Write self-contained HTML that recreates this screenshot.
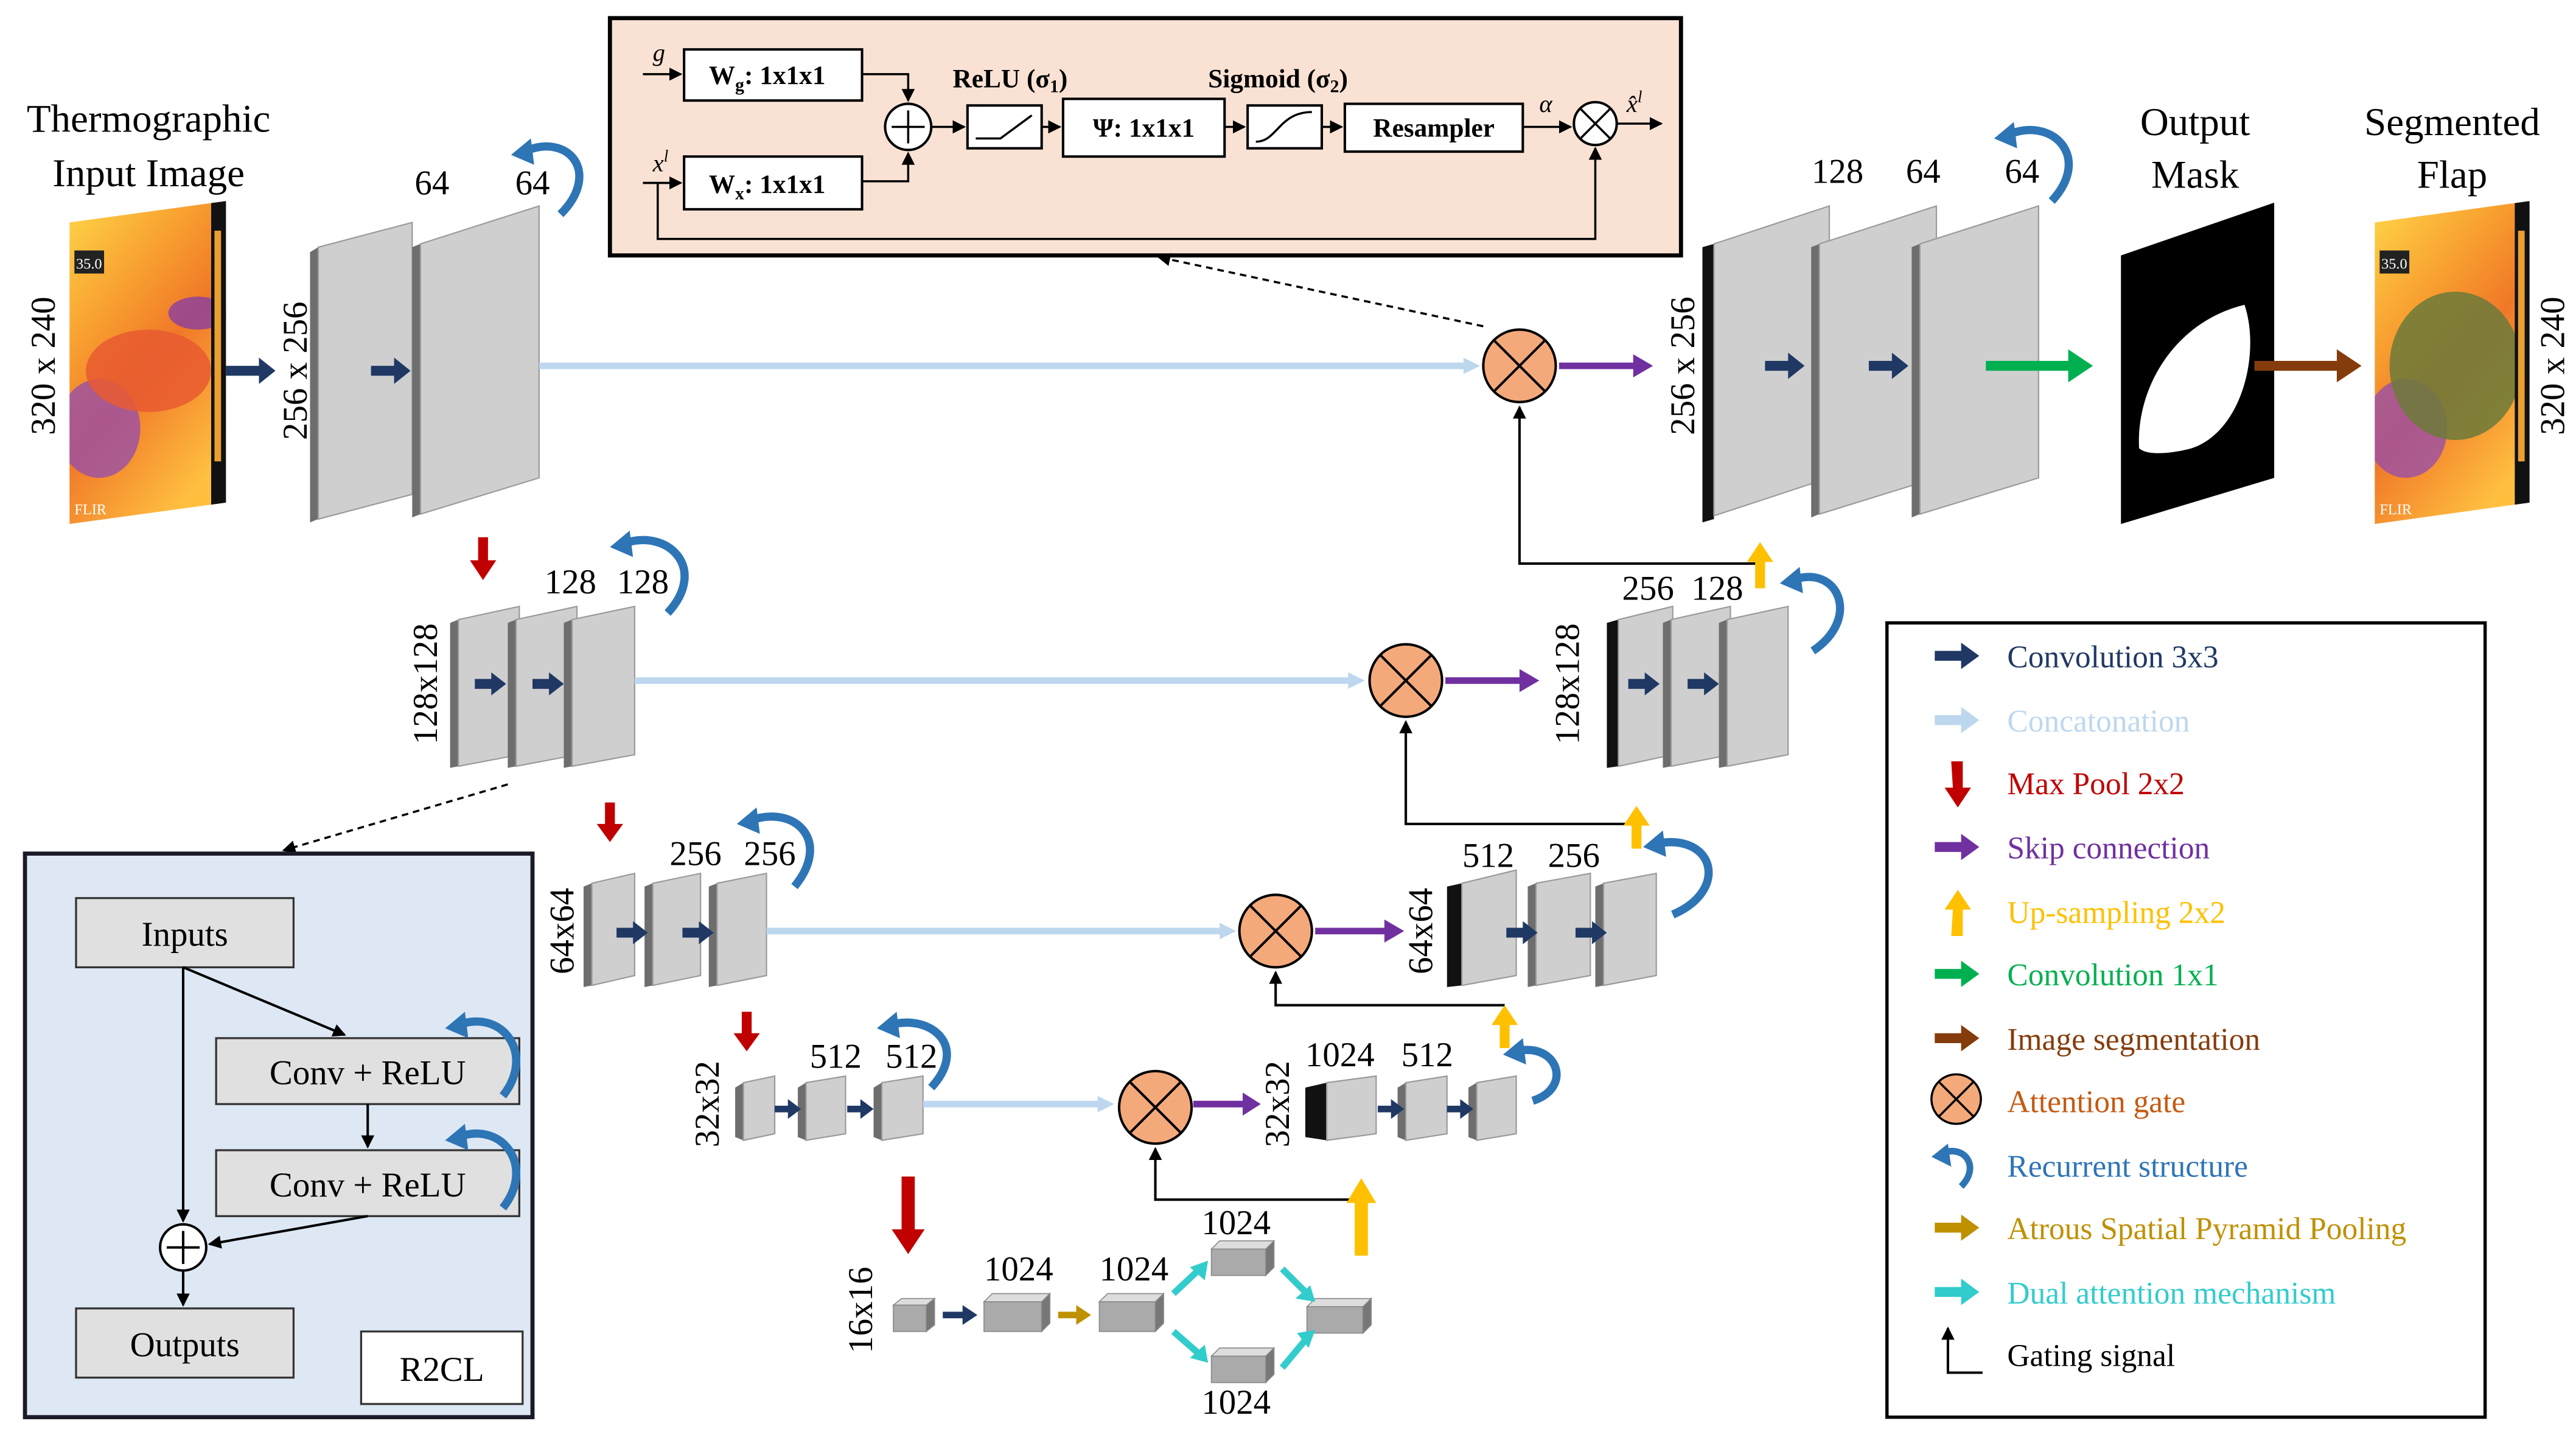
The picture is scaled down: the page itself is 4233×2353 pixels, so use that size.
<!DOCTYPE html>
<html><head><meta charset="utf-8"><style>
html,body{margin:0;padding:0;background:#fff}
svg{display:block}
text{font-family:"Liberation Serif",serif;fill:#000}
.sl{fill:#cfcfcf;stroke:#9a9a9a;stroke-width:0.8}
.sd{fill:#6e6e6e}
.bk{fill:#111}
.lg{font-size:19px}
</style></head><body>
<svg width="4233" height="2353" viewBox="0 0 1563 869" xmlns="http://www.w3.org/2000/svg">
<defs>
<marker id="ah" markerWidth="8" markerHeight="8" refX="7" refY="4" orient="auto" markerUnits="userSpaceOnUse"><path d="M0,0 L8,4 L0,8 z" fill="#000"/></marker>
<linearGradient id="th" x1="0" y1="0" x2="0.6" y2="1"><stop offset="0" stop-color="#ffd84a"/><stop offset="0.35" stop-color="#f8a030"/><stop offset="0.6" stop-color="#f07828"/><stop offset="1" stop-color="#ffc040"/></linearGradient>
<clipPath id="c1"><polygon points="42,135 137,122 137,305 42,318"/></clipPath>
<clipPath id="c2"><polygon points="1441,135 1535,122 1535,305 1441,318"/></clipPath>
</defs>

<!-- top inset -->
<rect x="370" y="11" width="650" height="144" fill="#f9e2d4" stroke="#000" stroke-width="2.5"/>
<g stroke="#000" stroke-width="1.3" fill="none">
<line x1="390" y1="45" x2="413" y2="45" marker-end="url(#ah)"/>
<line x1="390" y1="111" x2="413" y2="111" marker-end="url(#ah)"/>
<polyline points="523,45 551,45 551,61" marker-end="url(#ah)"/>
<polyline points="523,110 551,110 551,93" marker-end="url(#ah)"/>
<line x1="565" y1="77" x2="585" y2="77" marker-end="url(#ah)"/>
<line x1="632" y1="77" x2="643" y2="77" marker-end="url(#ah)"/>
<line x1="743" y1="77" x2="755" y2="77" marker-end="url(#ah)"/>
<line x1="802" y1="77" x2="814" y2="77" marker-end="url(#ah)"/>
<line x1="924" y1="77" x2="953" y2="77" marker-end="url(#ah)"/>
<line x1="981" y1="75" x2="1008" y2="75" marker-end="url(#ah)"/>
<polyline points="399,111 399,145 968,145 968,90" marker-end="url(#ah)"/>
</g>
<g fill="#fff" stroke="#000" stroke-width="1.5">
<rect x="415" y="30" width="108" height="31"/>
<rect x="415" y="95" width="108" height="32"/>
<rect x="587" y="64" width="45" height="26"/>
<rect x="645" y="60" width="98" height="35"/>
<rect x="757" y="64" width="45" height="26"/>
<rect x="816" y="63" width="108" height="29"/>
<circle cx="551" cy="77" r="14"/>
<circle cx="968" cy="75" r="13"/>
</g>
<g stroke="#000" stroke-width="1.3" fill="none">
<line x1="541" y1="77" x2="561" y2="77"/><line x1="551" y1="67" x2="551" y2="87"/>
<line x1="959" y1="66" x2="977" y2="84"/><line x1="977" y1="66" x2="959" y2="84"/>
<polyline points="592,84 607,84 626,70"/>
<path d="M762,86 C775,86 776,68 796,68"/>
</g>
<g font-weight="bold" font-size="16">
<text x="430" y="51">W<tspan font-size="11" dy="4">g</tspan><tspan dy="-4">: 1x1x1</tspan></text>
<text x="430" y="117">W<tspan font-size="11" dy="4">x</tspan><tspan dy="-4">: 1x1x1</tspan></text>
<text x="694" y="83" text-anchor="middle">Ψ: 1x1x1</text>
<text x="870" y="83" text-anchor="middle">Resampler</text>
<text x="578" y="53">ReLU (σ<tspan font-size="11" dy="3">1</tspan><tspan dy="-3">)</tspan></text>
<text x="733" y="53">Sigmoid (σ<tspan font-size="11" dy="3">2</tspan><tspan dy="-3">)</tspan></text>
</g>
<g font-style="italic" font-size="15">
<text x="396" y="37">g</text><text x="396" y="104">x<tspan font-size="10" dy="-6">l</tspan></text>
<text x="934" y="68">α</text><text x="987" y="68">x̂<tspan font-size="10" dy="-6">l</tspan></text>
</g>
<line x1="900" y1="198" x2="703" y2="156" stroke="#000" stroke-width="1.3" stroke-dasharray="4,3" marker-end="url(#ah)"/>

<!-- titles -->
<g font-size="24" text-anchor="middle">
<text x="90" y="80">Thermographic</text><text x="90" y="113">Input Image</text>
<text x="1332" y="82">Output</text><text x="1332" y="114">Mask</text>
<text x="1488" y="82">Segmented</text><text x="1488" y="114">Flap</text>
</g>
<g font-size="21" text-anchor="middle">
<text transform="translate(33,222) rotate(-90)">320 x 240</text>
<text transform="translate(1556,222) rotate(-90)">320 x 240</text>
<text transform="translate(186,225) rotate(-90)">256 x 256</text>
<text transform="translate(1028,222) rotate(-90)">256 x 256</text>
<text transform="translate(265,415) rotate(-90)">128x128</text>
<text transform="translate(958,415) rotate(-90)">128x128</text>
<text transform="translate(348,565) rotate(-90)">64x64</text>
<text transform="translate(869,565) rotate(-90)">64x64</text>
<text transform="translate(436,670) rotate(-90)">32x32</text>
<text transform="translate(782,670) rotate(-90)">32x32</text>
<text transform="translate(529,795) rotate(-90)">16x16</text>
<text x="262" y="118">64</text><text x="323" y="118">64</text>
<text x="346" y="360">128</text><text x="390" y="360">128</text>
<text x="422" y="525">256</text><text x="467" y="525">256</text>
<text x="507" y="648">512</text><text x="553" y="648">512</text>
<text x="1115" y="111">128</text><text x="1167" y="111">64</text><text x="1227" y="111">64</text>
<text x="1000" y="364">256</text><text x="1042" y="364">128</text>
<text x="903" y="526">512</text><text x="955" y="526">256</text>
<text x="813" y="647">1024</text><text x="866" y="647">512</text>
<text x="618" y="777">1024</text><text x="688" y="777">1024</text>
<text x="750" y="749">1024</text><text x="750" y="858">1024</text>
</g>

<!-- images -->
<g clip-path="url(#c1)">
<rect x="40" y="120" width="100" height="200" fill="url(#th)"/>
<ellipse cx="60" cy="260" rx="25" ry="30" fill="#9a4fa8" opacity="0.8"/>
<ellipse cx="120" cy="190" rx="18" ry="10" fill="#8a3fa0" opacity="0.8"/>
<ellipse cx="90" cy="225" rx="38" ry="25" fill="#e85a30" opacity="0.85"/>
<rect x="128" y="120" width="10" height="200" fill="#111"/>
<rect x="130" y="140" width="4" height="140" fill="#e9a030"/>
<rect x="45" y="152" width="18" height="14" fill="#222"/>
<text x="46" y="163" font-size="9" style="fill:#fff">35.0</text>
<text x="45" y="312" font-size="9" style="fill:#fff">FLIR</text>
</g>
<g clip-path="url(#c2)">
<rect x="1440" y="120" width="100" height="200" fill="url(#th)"/>
<ellipse cx="1460" cy="260" rx="25" ry="30" fill="#9a4fa8" opacity="0.8"/>
<ellipse cx="1490" cy="222" rx="40" ry="45" fill="#6b7a3a" opacity="0.85"/>
<rect x="1526" y="120" width="10" height="200" fill="#111"/>
<rect x="1528" y="140" width="4" height="140" fill="#e9a030"/>
<rect x="1444" y="152" width="18" height="14" fill="#222"/>
<text x="1445" y="163" font-size="9" style="fill:#fff">35.0</text>
<text x="1444" y="312" font-size="9" style="fill:#fff">FLIR</text>
</g>
<polygon points="1287,155 1380,123 1380,290 1287,318" fill="#000"/>
<path d="M1298,272 C1296,235 1320,195 1362,185 C1372,215 1360,262 1330,272 C1315,276 1302,276 1298,272 z" fill="#fff"/>

<!-- slabs level1 -->
<polygon class="sd" points="188,153 193,150 193,315 188,317"/>
<polygon class="sl" points="193,150 250,135 250,300 193,315"/>
<polygon class="sd" points="250,150 255,148 255,312 250,314"/>
<polygon class="sl" points="255,148 327,125 327,290 255,312"/>
<polygon class="bk" points="1033,150 1040,148 1040,315 1033,317"/>
<polygon class="sl" points="1040,148 1110,125 1110,290 1040,313"/>
<polygon class="sd" points="1099,150 1104,148 1104,312 1099,314"/>
<polygon class="sl" points="1104,148 1175,125 1175,290 1104,312"/>
<polygon class="sd" points="1160,150 1165,148 1165,312 1160,314"/>
<polygon class="sl" points="1165,148 1237,125 1237,290 1165,312"/>
<!-- level2 -->
<polygon class="sd" points="273,378 278,376 278,465 273,466"/><polygon class="sl" points="278,376 315,368 315,458 278,465"/>
<polygon class="sd" points="308,378 313,376 313,465 308,466"/><polygon class="sl" points="313,376 350,368 350,458 313,465"/>
<polygon class="sd" points="342,378 347,376 347,465 342,466"/><polygon class="sl" points="347,376 385,368 385,458 347,465"/>
<polygon class="bk" points="975,378 982,376 982,465 975,466"/><polygon class="sl" points="982,376 1015,368 1015,458 982,465"/>
<polygon class="sd" points="1009,378 1014,376 1014,465 1009,466"/><polygon class="sl" points="1014,376 1050,368 1050,458 1014,465"/>
<polygon class="sd" points="1043,378 1048,376 1048,465 1043,466"/><polygon class="sl" points="1048,376 1085,368 1085,458 1048,465"/>
<!-- level3 -->
<polygon class="sd" points="354,538 359,536 359,598 354,599"/><polygon class="sl" points="359,536 385,530 385,592 359,598"/>
<polygon class="sd" points="391,538 396,536 396,598 391,599"/><polygon class="sl" points="396,536 425,530 425,592 396,598"/>
<polygon class="sd" points="430,538 435,536 435,598 430,599"/><polygon class="sl" points="435,536 465,530 465,592 435,598"/>
<polygon class="bk" points="878,538 887,536 887,598 878,599"/><polygon class="sl" points="887,536 920,528 920,592 887,598"/>
<polygon class="sd" points="927,538 932,536 932,598 927,599"/><polygon class="sl" points="932,536 965,530 965,592 932,598"/>
<polygon class="sd" points="968,538 973,536 973,598 968,599"/><polygon class="sl" points="973,536 1005,530 1005,592 973,598"/>
<!-- level4 -->
<polygon class="sd" points="446,660 451,657 451,692 446,690"/><polygon class="sl" points="451,657 470,653 470,688 451,692"/>
<polygon class="sd" points="484,660 489,657 489,692 484,690"/><polygon class="sl" points="489,657 513,653 513,688 489,692"/>
<polygon class="sd" points="530,660 535,657 535,692 530,690"/><polygon class="sl" points="535,657 560,653 560,688 535,692"/>
<polygon class="bk" points="792,660 805,657 805,692 792,690"/><polygon class="sl" points="805,657 835,653 835,688 805,692"/>
<polygon class="sd" points="848,660 853,657 853,692 848,690"/><polygon class="sl" points="853,657 878,653 878,688 853,692"/>
<polygon class="sd" points="891,660 896,657 896,692 891,690"/><polygon class="sl" points="896,657 920,653 920,688 896,692"/>
<!-- level5 cubes -->
<g stroke="#888" stroke-width="0.6">
<polygon points="542,792 562,792 567,788 547,788" fill="#ddd"/><rect x="542" y="792" width="20" height="16" fill="#aaa"/><polygon points="562,792 567,788 567,804 562,808" fill="#777"/>
<polygon points="597,790 632,790 637,785 602,785" fill="#ddd"/><rect x="597" y="790" width="35" height="18" fill="#aaa"/><polygon points="632,790 637,785 637,803 632,808" fill="#777"/>
<polygon points="667,790 701,790 706,785 672,785" fill="#ddd"/><rect x="667" y="790" width="34" height="18" fill="#aaa"/><polygon points="701,790 706,785 706,803 701,808" fill="#777"/>
<polygon points="735,758 768,758 773,753 740,753" fill="#ddd"/><rect x="735" y="758" width="33" height="16" fill="#aaa"/><polygon points="768,758 773,753 773,769 768,774" fill="#777"/>
<polygon points="735,823 768,823 773,818 740,818" fill="#ddd"/><rect x="735" y="823" width="33" height="16" fill="#aaa"/><polygon points="768,823 773,818 773,834 768,839" fill="#777"/>
<polygon points="793,793 827,793 832,788 798,788" fill="#ddd"/><rect x="793" y="793" width="34" height="16" fill="#aaa"/><polygon points="827,793 832,788 832,804 827,809" fill="#777"/>
</g>

<!-- concat lines -->
<g stroke="#bdd7ee" stroke-width="4" fill="none">
<line x1="327" y1="222" x2="890" y2="222"/><line x1="385" y1="413" x2="820" y2="413"/>
<line x1="465" y1="565" x2="742" y2="565"/><line x1="560" y1="670" x2="668" y2="670"/>
</g>
<g fill="#bdd7ee"><polygon points="888,217 898,222 888,227"/><polygon points="818,408 828,413 818,418"/><polygon points="740,560 750,565 740,570"/><polygon points="666,665 676,670 666,675"/></g>

<!-- attention gates -->
<g fill="#f4a97b" stroke="#000" stroke-width="1.5">
<circle cx="922" cy="222" r="22"/><circle cx="853" cy="413" r="22"/><circle cx="774" cy="565" r="22"/><circle cx="701" cy="672" r="22"/>
</g>
<g stroke="#000" stroke-width="1.5">
<path d="M906,206 L938,238 M938,206 L906,238"/><path d="M837,397 L869,429 M869,397 L837,429"/>
<path d="M758,549 L790,581 M790,549 L758,581"/><path d="M685,656 L717,688 M717,656 L685,688"/>
</g>
<!-- gating lines -->
<g stroke="#000" stroke-width="1.5" fill="none">
<polyline points="1068,342 922,342 922,247" marker-end="url(#ah)"/>
<polyline points="993,500 853,500 853,438" marker-end="url(#ah)"/>
<polyline points="913,610 774,610 774,590" marker-end="url(#ah)"/>
<polyline points="826,728 701,728 701,697" marker-end="url(#ah)"/>
</g>

<g id="arrows">
<g fill="#1f3864">
<path d="M137,222 h20 v-5 l10,8 l-10,8 v-5 h-20z"/>
<path d="M225,222 h14 v-5 l10,8 l-10,8 v-5 h-14z"/>
<path d="M1071,219 h14 v-5 l10,8 l-10,8 v-5 h-14z"/>
<path d="M1134,219 h14 v-5 l10,8 l-10,8 v-5 h-14z"/>
<path d="M288,412 h10 v-4 l9,7 l-9,7 v-4 h-10z"/>
<path d="M323,412 h10 v-4 l9,7 l-9,7 v-4 h-10z"/>
<path d="M988,412 h10 v-4 l9,7 l-9,7 v-4 h-10z"/>
<path d="M1024,412 h10 v-4 l9,7 l-9,7 v-4 h-10z"/>
<path d="M374,563 h10 v-4 l9,7 l-9,7 v-4 h-10z"/>
<path d="M414,563 h10 v-4 l9,7 l-9,7 v-4 h-10z"/>
<path d="M914,563 h10 v-4 l9,7 l-9,7 v-4 h-10z"/>
<path d="M956,563 h10 v-4 l9,7 l-9,7 v-4 h-10z"/>
<path d="M470,671 h8 v-4 l8,6 l-8,6 v-4 h-8z"/>
<path d="M514,671 h8 v-4 l8,6 l-8,6 v-4 h-8z"/>
<path d="M836,671 h8 v-4 l8,6 l-8,6 v-4 h-8z"/>
<path d="M878,671 h8 v-4 l8,6 l-8,6 v-4 h-8z"/>
<path d="M572,796 h12 v-4 l9,6 l-9,6 v-4 h-12z"/>
</g>
<path d="M642,796 h11 v-4 l9,6 l-9,6 v-4 h-11z" fill="#bf9000"/>
<g fill="#7030a0">
<path d="M946,220 h45 v-5 l12,7 l-12,7 v-5 h-45z"/>
<path d="M877,411 h45 v-5 l12,7 l-12,7 v-5 h-45z"/>
<path d="M798,563 h42 v-5 l12,7 l-12,7 v-5 h-42z"/>
<path d="M724,668 h30 v-5 l11,7 l-11,7 v-5 h-30z"/>
</g>
<path d="M1205,219 h50 v-7 l15,10 l-15,10 v-7 h-50z" fill="#00b050"/>
<path d="M1368,219 h50 v-7 l15,10 l-15,10 v-7 h-50z" fill="#843c0c"/>
<g fill="#c00000">
<path d="M290,326 h6 v14 h5 l-8,12 l-8,-12 h5z"/>
<path d="M367,487 h6 v13 h5 l-8,11 l-8,-11 h5z"/>
<path d="M450,614 h6 v13 h5 l-8,11 l-8,-11 h5z"/>
<path d="M547,714 h8 v32 h6 l-10,15 l-10,-15 h6z"/>
</g>
<g fill="#ffc000">
<path d="M1065,357 h6 v-16 h5 l-8,-12 l-8,12 h5z"/>
<path d="M990,515 h6 v-14 h5 l-8,-12 l-8,12 h5z"/>
<path d="M910,636 h6 v-14 h5 l-8,-12 l-8,12 h5z"/>
<path d="M822,762 h8 v-32 h5 l-9,-15 l-9,15 h5z"/>
</g>
<g stroke="#33cccc" stroke-width="4" fill="none">
<line x1="712" y1="785" x2="728" y2="770"/><line x1="712" y1="808" x2="728" y2="822"/>
<line x1="778" y1="770" x2="793" y2="785"/><line x1="778" y1="830" x2="793" y2="812"/>
</g>
<g fill="#33cccc">
<polygon points="733,765 731,777 722,769"/><polygon points="733,827 722,824 731,816"/>
<polygon points="798,790 786,788 795,780"/><polygon points="798,807 794,818 787,809"/>
</g>
<g fill="none" stroke="#2e75b6" stroke-width="5">
<path d="M318,92 C345,80 365,105 340,130"/>
<path d="M1218,82 C1245,70 1270,95 1245,122"/>
<path d="M378,330 C405,320 430,345 405,372"/>
<path d="M1088,352 C1115,342 1130,375 1100,395"/>
<path d="M455,498 C482,488 505,510 482,538"/>
<path d="M1005,512 C1040,505 1050,540 1015,555"/>
<path d="M540,622 C565,615 588,635 565,660"/>
<path d="M920,638 C945,632 955,660 930,668"/>
</g>
<g fill="#2e75b6">
<polygon points="310,94 322,84 324,100"/><polygon points="1210,84 1222,74 1224,90"/>
<polygon points="370,332 382,322 384,338"/><polygon points="1080,354 1092,344 1094,360"/>
<polygon points="447,500 459,490 461,506"/><polygon points="997,514 1009,504 1011,520"/>
<polygon points="532,624 544,614 546,630"/><polygon points="912,640 924,630 926,646"/>
</g>
</g>

<!-- R2CL -->
<line x1="308" y1="476" x2="172" y2="516" stroke="#000" stroke-width="1.3" stroke-dasharray="4,3" marker-end="url(#ah)"/>
<rect x="15" y="518" width="308" height="342" fill="#dde8f4" stroke="#1a1a2a" stroke-width="2.5"/>
<g fill="#e0e0e0" stroke="#333" stroke-width="1.2">
<rect x="46" y="545" width="132" height="42"/><rect x="131" y="630" width="184" height="40"/>
<rect x="131" y="698" width="184" height="40"/><rect x="46" y="794" width="132" height="42"/>
</g>
<rect x="219" y="808" width="98" height="44" fill="#fff" stroke="#333" stroke-width="1.2"/>
<g font-size="21" text-anchor="middle">
<text x="112" y="574">Inputs</text><text x="223" y="658">Conv + ReLU</text><text x="223" y="726">Conv + ReLU</text>
<text x="112" y="823">Outputs</text><text x="268" y="838">R2CL</text>
</g>
<g stroke="#000" stroke-width="1.5" fill="none">
<line x1="111" y1="587" x2="111" y2="741" marker-end="url(#ah)"/>
<line x1="111" y1="587" x2="209" y2="628" marker-end="url(#ah)"/>
<line x1="223" y1="670" x2="223" y2="696" marker-end="url(#ah)"/>
<line x1="223" y1="738" x2="127" y2="755" marker-end="url(#ah)"/>
<line x1="111" y1="771" x2="111" y2="792" marker-end="url(#ah)"/>
</g>
<circle cx="111" cy="757" r="14" fill="#fff" stroke="#000" stroke-width="1.5"/>
<path d="M101,757 h20 M111,747 v20" stroke="#000" stroke-width="1.5"/>
<g fill="none" stroke="#2e75b6" stroke-width="5">
<path d="M278,622 C305,612 325,640 305,665"/><path d="M278,690 C305,680 325,708 305,733"/>
</g>
<g fill="#2e75b6"><polygon points="270,624 282,614 284,630"/><polygon points="270,692 282,682 284,698"/></g>

<!-- legend -->
<rect x="1145" y="378" width="363" height="482" fill="#fff" stroke="#000" stroke-width="2"/>
<g>
<path d="M1174,395 h16 v-5 l11,8 l-11,8 v-5 h-16z" fill="#1f3864"/>
<path d="M1174,434 h16 v-5 l11,8 l-11,8 v-5 h-16z" fill="#bdd7ee"/>
<path d="M1184,462 h7 v16 h5 l-8,12 l-8,-12 h5z" fill="#c00000"/>
<path d="M1174,511 h16 v-5 l11,8 l-11,8 v-5 h-16z" fill="#7030a0"/>
<path d="M1184,568 h7 v-16 h5 l-8,-12 l-8,12 h5z" fill="#ffc000"/>
<path d="M1174,588 h16 v-5 l11,8 l-11,8 v-5 h-16z" fill="#00b050"/>
<path d="M1174,627 h16 v-5 l11,8 l-11,8 v-5 h-16z" fill="#843c0c"/>
<circle cx="1187" cy="667" r="15" fill="#f4a97b" stroke="#000" stroke-width="1.3"/>
<path d="M1176,656 L1198,678 M1198,656 L1176,678" stroke="#000" stroke-width="1.3"/>
<path d="M1178,700 C1192,694 1202,708 1190,720" fill="none" stroke="#2e75b6" stroke-width="4"/>
<polygon points="1172,702 1182,694 1184,708" fill="#2e75b6"/>
<path d="M1174,742 h16 v-5 l11,8 l-11,8 v-5 h-16z" fill="#bf9000"/>
<path d="M1174,781 h16 v-5 l11,8 l-11,8 v-5 h-16z" fill="#33cccc"/>
<polyline points="1203,833 1182,833 1182,806" fill="none" stroke="#000" stroke-width="1.5" marker-end="url(#ah)"/>
</g>
<g class="lg">
<text x="1218" y="405" style="fill:#1f3864">Convolution 3x3</text>
<text x="1218" y="444" style="fill:#bdd7ee">Concatonation</text>
<text x="1218" y="482" style="fill:#c00000">Max Pool 2x2</text>
<text x="1218" y="521" style="fill:#7030a0">Skip connection</text>
<text x="1218" y="560" style="fill:#ffc000">Up-sampling 2x2</text>
<text x="1218" y="598" style="fill:#00b050">Convolution 1x1</text>
<text x="1218" y="637" style="fill:#843c0c">Image segmentation</text>
<text x="1218" y="675" style="fill:#c55a11">Attention gate</text>
<text x="1218" y="714" style="fill:#2e75b6">Recurrent structure</text>
<text x="1218" y="752" style="fill:#bf9000">Atrous Spatial Pyramid Pooling</text>
<text x="1218" y="791" style="fill:#33cccc">Dual attention mechanism</text>
<text x="1218" y="829">Gating signal</text>
</g>
</svg>
</body></html>
